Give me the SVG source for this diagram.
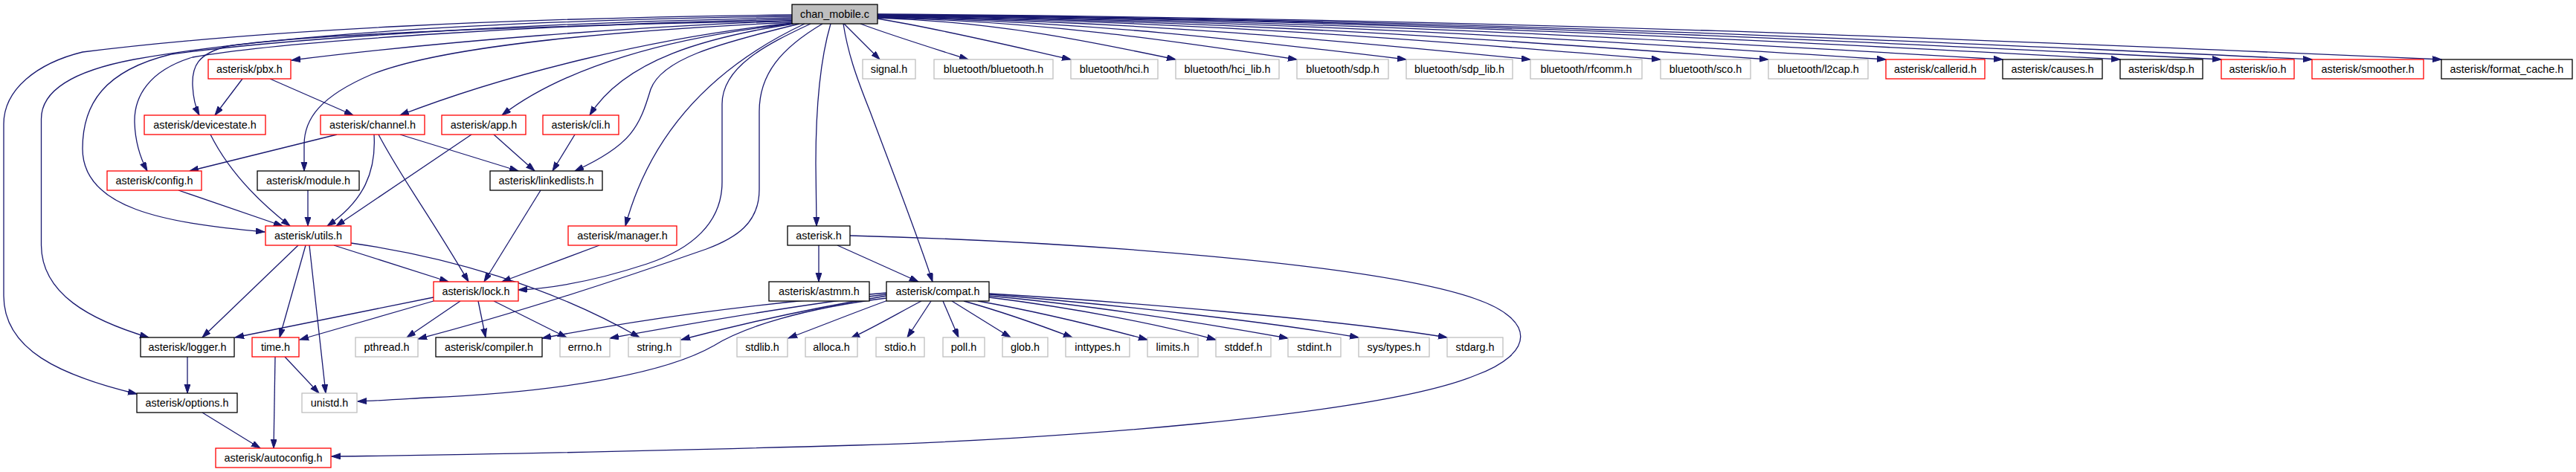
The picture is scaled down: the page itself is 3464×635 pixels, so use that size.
<svg xmlns="http://www.w3.org/2000/svg" width="3464" height="635" viewBox="0 0 3464 635">
<style>
rect{fill:#fff;stroke-width:1.3}
.r rect{stroke:#ff0000}
.b rect{stroke:#000}
.g rect{stroke:#bfbfbf}
.root rect{fill:#bfbfbf;stroke:#000}
text{font-family:"Liberation Sans",Arial,sans-serif;font-size:14.4px;text-anchor:middle;fill:#000}
#edges path{fill:none;stroke:#191970;stroke-width:1.3;marker-end:url(#a)}
</style>
<defs>
<marker id="a" markerUnits="userSpaceOnUse" markerWidth="13" markerHeight="9" refX="12" refY="4" orient="auto">
<path d="M0,0 L12,4 L0,8 z" fill="#191970" stroke="#191970" stroke-width="1"/>
</marker>
</defs>
<rect x="0" y="0" width="3464" height="635" style="fill:#fff;stroke:none"/>
<g id="edges">
<!-- chan_mobile.c fan to row 1 -->
<path d="M1135,32 L1183,80"/>
<path d="M1157,32 C1200,48 1255,65 1302,80"/>
<path d="M1180,25 C1270,40 1360,62 1440,80"/>
<path d="M1180,24 C1340,29.6 1461,54.8 1581,80"/>
<path d="M1180,23.5 C1406,29.2 1575,54.6 1744,80"/>
<path d="M1180,23 C1464,28.7 1678,54.4 1891,80"/>
<path d="M1180,22.5 C1531,28.3 1795,54.1 2058,80"/>
<path d="M1180,22 C1601,27.8 1917,53.9 2233,80"/>
<path d="M1180,21.5 C1659,27.4 2019,53.7 2378,80"/>
<path d="M1180,21 C1722,26.9 2129,53.5 2536,80"/>
<path d="M1180,20.5 C1785,26.5 2239,53.2 2693,80"/>
<path d="M1180,20 C1848,26 2350,53 2851,80"/>
<path d="M1180,20 C1903,26 2445,53 2987,80"/>
<path d="M1180,19.5 C1952,25.6 2530,52.8 3109,80"/>
<path d="M1180,19 C2021,25.1 2652,52.6 3283,80"/>
<!-- chan_mobile.c left side -->
<path d="M1065,20 C700,24 350,40 111,70 C50,85 5,120 5,167 L5,398 C5,470 80,505 184,530"/>
<path d="M1065,22 C700,27 380,45 180,80 C90,97 55.5,125 55.5,160 L55.5,330 C56,395 120,430 200,454"/>
<path d="M1065,24 C750,29 400,50 230,73 C140,95 111,140 111,200 C111,280 220,300 356,312"/>
<path d="M1065,26 C750,32 380,55 259,77 C200,95 180,130 181,165 C182,195 190,215 198,230"/>
<path d="M1065,28 C750,34 420,45 307,62 C265,72 258,90 259,115 C260,135 263,145 268,155"/>
<path d="M1065,28 C850,36 600,55 392,81"/>
<path d="M1065,30 C850,40 600,60 500,100 C430,130 409,160 409,195 L409,230"/>
<path d="M1065,31 C880,50 680,100 538,155"/>
<path d="M1066,32 C900,50 760,90 675,155"/>
<path d="M1067,32 C950,50 840,80 793,155"/>
<path d="M1075,32 C960,60 890,80 875,120 C860,170 850,195 773,230"/>
<path d="M1082,32 C980,80 880,160 841,304"/>
<path d="M1090,32 C1030,60 971,90 971,140 L971,245 C971,300 930,335 870,355 C800,378 740,388 697,390"/>
<path d="M1106,32 C1050,65 1021,100 1021,150 L1021,255 C1021,300 990,320 950,335 C850,370 700,420 562,456"/>
<path d="M1117,32 C1100,90 1097,160 1097,220 L1098,304"/>
<path d="M1134,32 C1140,70 1150,100 1170,150 C1200,230 1235,320 1254,379"/>
<!-- pbx.h -->
<path d="M326,106 L289,155"/>
<path d="M363,106 L475,155"/>
<!-- devicestate.h -->
<path d="M283,181 C305,225 340,265 390,304"/>
<!-- channel.h -->
<path d="M453,181 L255,230"/>
<path d="M503,181 C506,230 490,270 440,304"/>
<path d="M509,181 C540,240 575,285 630,379"/>
<path d="M538,181 L697,230"/>
<!-- app.h -->
<path d="M634,181 L452,304"/>
<path d="M664,181 L719,230"/>
<!-- cli.h -->
<path d="M773,181 L743,230"/>
<!-- config.h -->
<path d="M240,256 L380,304"/>
<!-- module.h -->
<path d="M414,256 L414,304"/>
<!-- linkedlists.h -->
<path d="M727,256 L651,379"/>
<!-- manager.h -->
<path d="M806,330 L675,379"/>
<!-- utils.h -->
<path d="M449,330 L603,379"/>
<path d="M472,327 C600,345 740,385 860,454"/>
<path d="M401,330 L272,454"/>
<path d="M411,330 L376,454"/>
<path d="M416,330 L438,529"/>
<!-- lock.h -->
<path d="M583,400 L316,454"/>
<path d="M583,405 L403,457"/>
<path d="M619,405 L547,454"/>
<path d="M643,405 L653,454"/>
<path d="M664,405 L762,454"/>
<!-- time.h -->
<path d="M383,480 L429,529"/>
<path d="M370,480 L368,603"/>
<!-- logger.h -->
<path d="M252,480 L252,529"/>
<!-- options.h -->
<path d="M272,555 L350,603"/>
<!-- asterisk.h -->
<path d="M1101,330 L1101,379"/>
<path d="M1126,330 L1235,379"/>
<path d="M1143,317 C1450,325 1850,355 1984,402 C2065,430 2065,475 1984,505 C1850,560 1400,592 1150,599 C900,606 650,612 446,614"/>
<!-- compat.h -->
<path d="M1192,401 C1080,415 1000,440 960,465 C890,505 740,528 575,535 C540,537 510,539 481,540"/>
<path d="M1192,394 C1000,410 860,430 729,455"/>
<path d="M1192,396 C1060,412 930,435 820,455"/>
<path d="M1192,398 C1100,413 1000,435 916,457"/>
<path d="M1194,404 C1150,420 1100,440 1060,455"/>
<path d="M1239,405 C1210,420 1180,438 1144,455"/>
<path d="M1252,405 L1220,454"/>
<path d="M1268,405 L1289,454"/>
<path d="M1280,405 L1359,454"/>
<path d="M1296,405 C1350,420 1400,438 1442,454"/>
<path d="M1315,405 C1400,420 1480,440 1543,457"/>
<path d="M1330,400 C1450,415 1560,437 1635,457"/>
<path d="M1330,398 C1480,412 1620,435 1732,455"/>
<path d="M1330,396 C1500,410 1700,432 1827,454"/>
<path d="M1330,395 C1500,405 1800,430 1946,454"/>
</g>
<g id="n_chan_mobile" class="root"><rect x="1065" y="6" width="115" height="26"/><text x="1122.5" y="23.5">chan_mobile.c</text></g>
<g id="n_pbx" class="r"><rect x="280" y="80" width="111" height="26"/><text x="335.5" y="97.5">asterisk/pbx.h</text></g>
<g id="n_signal" class="g"><rect x="1160" y="80" width="71" height="26"/><text x="1195.5" y="97.5">signal.h</text></g>
<g id="n_bt_bluetooth" class="g"><rect x="1256" y="80" width="160" height="26"/><text x="1336" y="97.5">bluetooth/bluetooth.h</text></g>
<g id="n_bt_hci" class="g"><rect x="1440" y="80" width="117" height="26"/><text x="1498.5" y="97.5">bluetooth/hci.h</text></g>
<g id="n_bt_hci_lib" class="g"><rect x="1581" y="80" width="139" height="26"/><text x="1650.5" y="97.5">bluetooth/hci_lib.h</text></g>
<g id="n_bt_sdp" class="g"><rect x="1744" y="80" width="123" height="26"/><text x="1805.5" y="97.5">bluetooth/sdp.h</text></g>
<g id="n_bt_sdp_lib" class="g"><rect x="1891" y="80" width="143" height="26"/><text x="1962.5" y="97.5">bluetooth/sdp_lib.h</text></g>
<g id="n_bt_rfcomm" class="g"><rect x="2058" y="80" width="150" height="26"/><text x="2133" y="97.5">bluetooth/rfcomm.h</text></g>
<g id="n_bt_sco" class="g"><rect x="2233" y="80" width="121" height="26"/><text x="2293.5" y="97.5">bluetooth/sco.h</text></g>
<g id="n_bt_l2cap" class="g"><rect x="2378" y="80" width="134" height="26"/><text x="2445" y="97.5">bluetooth/l2cap.h</text></g>
<g id="n_callerid" class="r"><rect x="2536" y="80" width="133" height="26"/><text x="2602.5" y="97.5">asterisk/callerid.h</text></g>
<g id="n_causes" class="b"><rect x="2693" y="80" width="134" height="26"/><text x="2760" y="97.5">asterisk/causes.h</text></g>
<g id="n_dsp" class="b"><rect x="2851" y="80" width="111" height="26"/><text x="2906.5" y="97.5">asterisk/dsp.h</text></g>
<g id="n_io" class="r"><rect x="2987" y="80" width="98" height="26"/><text x="3036" y="97.5">asterisk/io.h</text></g>
<g id="n_smoother" class="r"><rect x="3109" y="80" width="150" height="26"/><text x="3184" y="97.5">asterisk/smoother.h</text></g>
<g id="n_format_cache" class="b"><rect x="3283" y="80" width="176" height="26"/><text x="3371" y="97.5">asterisk/format_cache.h</text></g>
<g id="n_devicestate" class="r"><rect x="194" y="155" width="163" height="26"/><text x="275.5" y="172.5">asterisk/devicestate.h</text></g>
<g id="n_channel" class="r"><rect x="431" y="155" width="140" height="26"/><text x="501" y="172.5">asterisk/channel.h</text></g>
<g id="n_app" class="r"><rect x="594" y="155" width="113" height="26"/><text x="650.5" y="172.5">asterisk/app.h</text></g>
<g id="n_cli" class="r"><rect x="730" y="155" width="102" height="26"/><text x="781" y="172.5">asterisk/cli.h</text></g>
<g id="n_config" class="r"><rect x="144" y="230" width="127" height="26"/><text x="207.5" y="247.5">asterisk/config.h</text></g>
<g id="n_module" class="b"><rect x="346" y="230" width="137" height="26"/><text x="414.5" y="247.5">asterisk/module.h</text></g>
<g id="n_linkedlists" class="b"><rect x="659" y="230" width="151" height="26"/><text x="734.5" y="247.5">asterisk/linkedlists.h</text></g>
<g id="n_utils" class="r"><rect x="357" y="304" width="115" height="26"/><text x="414.5" y="321.5">asterisk/utils.h</text></g>
<g id="n_manager" class="r"><rect x="764" y="304" width="146" height="26"/><text x="837" y="321.5">asterisk/manager.h</text></g>
<g id="n_asterisk" class="b"><rect x="1059" y="304" width="84" height="26"/><text x="1101" y="321.5">asterisk.h</text></g>
<g id="n_lock" class="r"><rect x="583" y="379" width="114" height="26"/><text x="640" y="396.5">asterisk/lock.h</text></g>
<g id="n_astmm" class="b"><rect x="1034" y="379" width="135" height="26"/><text x="1101.5" y="396.5">asterisk/astmm.h</text></g>
<g id="n_compat" class="b"><rect x="1192" y="379" width="138" height="26"/><text x="1261" y="396.5">asterisk/compat.h</text></g>
<g id="n_logger" class="b"><rect x="189" y="454" width="126" height="26"/><text x="252" y="471.5">asterisk/logger.h</text></g>
<g id="n_time" class="r"><rect x="339" y="454" width="63" height="26"/><text x="370.5" y="471.5">time.h</text></g>
<g id="n_pthread" class="g"><rect x="478" y="454" width="84" height="26"/><text x="520" y="471.5">pthread.h</text></g>
<g id="n_compiler" class="b"><rect x="586" y="454" width="143" height="26"/><text x="657.5" y="471.5">asterisk/compiler.h</text></g>
<g id="n_errno" class="g"><rect x="753" y="454" width="67" height="26"/><text x="786.5" y="471.5">errno.h</text></g>
<g id="n_string" class="g"><rect x="845" y="454" width="70" height="26"/><text x="880" y="471.5">string.h</text></g>
<g id="n_stdlib" class="g"><rect x="991" y="454" width="68" height="26"/><text x="1025" y="471.5">stdlib.h</text></g>
<g id="n_alloca" class="g"><rect x="1083" y="454" width="70" height="26"/><text x="1118" y="471.5">alloca.h</text></g>
<g id="n_stdio" class="g"><rect x="1178" y="454" width="65" height="26"/><text x="1210.5" y="471.5">stdio.h</text></g>
<g id="n_poll" class="g"><rect x="1268" y="454" width="56" height="26"/><text x="1296" y="471.5">poll.h</text></g>
<g id="n_glob" class="g"><rect x="1348" y="454" width="61" height="26"/><text x="1378.5" y="471.5">glob.h</text></g>
<g id="n_inttypes" class="g"><rect x="1433" y="454" width="86" height="26"/><text x="1476" y="471.5">inttypes.h</text></g>
<g id="n_limits" class="g"><rect x="1543" y="454" width="68" height="26"/><text x="1577" y="471.5">limits.h</text></g>
<g id="n_stddef" class="g"><rect x="1635" y="454" width="74" height="26"/><text x="1672" y="471.5">stddef.h</text></g>
<g id="n_stdint" class="g"><rect x="1732" y="454" width="71" height="26"/><text x="1767.5" y="471.5">stdint.h</text></g>
<g id="n_systypes" class="g"><rect x="1827" y="454" width="95" height="26"/><text x="1874.5" y="471.5">sys/types.h</text></g>
<g id="n_stdarg" class="g"><rect x="1946" y="454" width="75" height="26"/><text x="1983.5" y="471.5">stdarg.h</text></g>
<g id="n_options" class="b"><rect x="184" y="529" width="135" height="26"/><text x="251.5" y="546.5">asterisk/options.h</text></g>
<g id="n_unistd" class="g"><rect x="406" y="529" width="74" height="26"/><text x="443" y="546.5">unistd.h</text></g>
<g id="n_autoconfig" class="r"><rect x="290" y="603" width="155" height="26"/><text x="367.5" y="620.5">asterisk/autoconfig.h</text></g>
</svg>
